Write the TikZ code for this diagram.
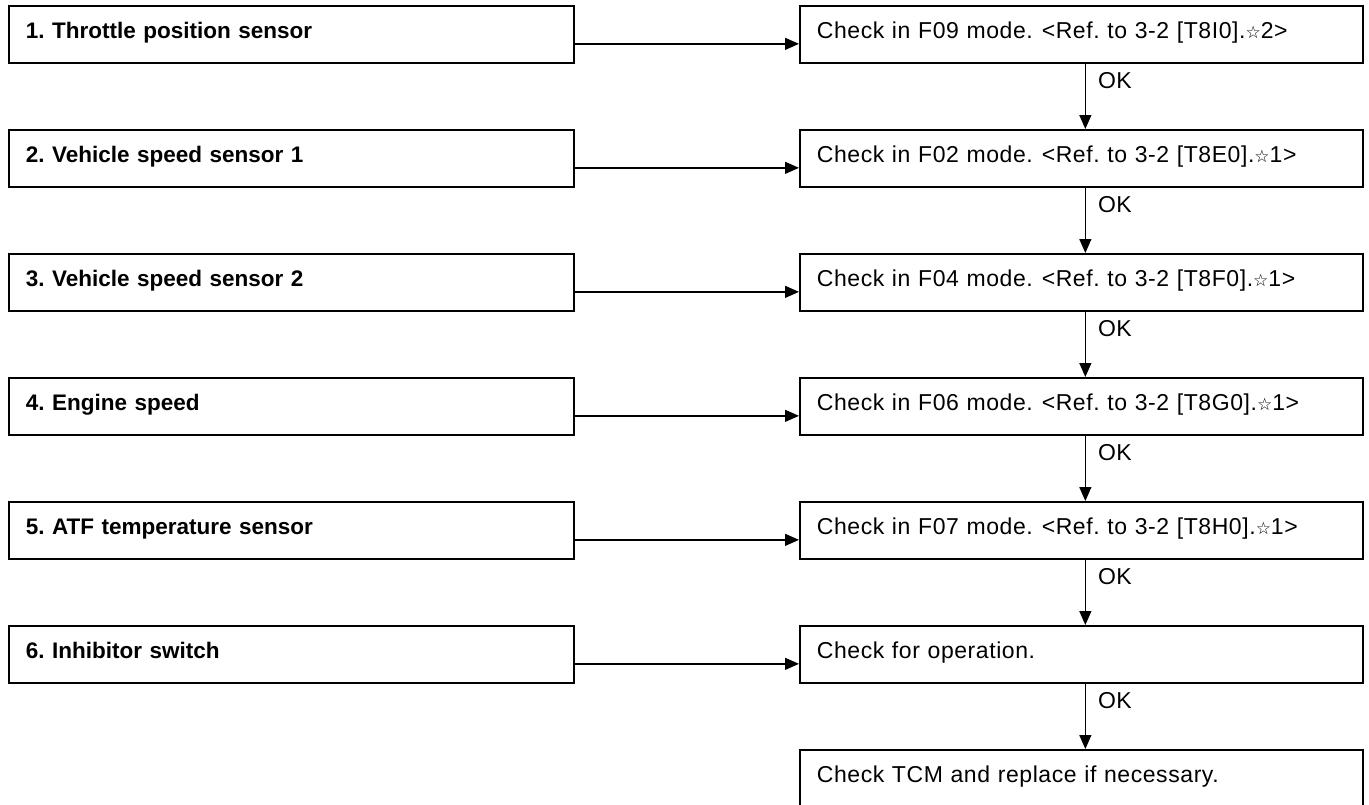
\documentclass[tikz,border=0pt]{standalone}
\usepackage{fontspec}
\setmainfont{Liberation Sans}
\newfontfamily\rg[LetterSpace=2.5]{Liberation Sans}
\newfontfamily\bd{Liberation Sans}
\newfontfamily\sym{DejaVu Sans}
\usetikzlibrary{arrows.meta}
\newcommand{\st}{{\sym\fontsize{17}{20}\selectfont ☆}}
\newcommand{\gp}{\hspace{9pt}}
\begin{document}
\frenchspacing
\begin{tikzpicture}[x=1pt,y=1pt,
  box/.style={draw, line width=1.7pt, rectangle, anchor=north west, minimum height=57pt,
    inner xsep=17pt, inner ysep=0pt, text height=16pt, text depth=8pt, align=left},
  lbox/.style={box, text width=531pt, font=\frenchspacing\bd\bfseries\fontsize{22.5}{26}\selectfont},
  rbox/.style={box, text width=529pt, font=\frenchspacing\rg\fontsize{23}{26}\selectfont},
  arr/.style={line width=1.3pt, -{Triangle[length=14pt,width=12pt]}},
  ok/.style={pos=0, anchor=north west, inner sep=0pt, xshift=12pt, yshift=-8pt,
    font=\rg\fontsize{23}{26}\selectfont}]
\useasboundingbox (0,0) rectangle (1369,-804);
\fill[white] (0,0) rectangle (1369,-804);
% left boxes
\node[lbox] (L1) at (8,-5)   {1. Throttle position sensor};
\node[lbox] (L2) at (8,-129) {2. Vehicle speed sensor 1};
\node[lbox] (L3) at (8,-253) {3. Vehicle speed sensor 2};
\node[lbox] (L4) at (8,-377) {4. Engine speed};
\node[lbox] (L5) at (8,-501) {5. ATF temperature sensor};
\node[lbox] (L6) at (8,-625) {6. Inhibitor switch};
% right boxes
\node[rbox] (R1) at (799,-5)   {Check in F09 mode.\gp<Ref. to 3-2 [T8I0].\st2>};
\node[rbox] (R2) at (799,-129) {Check in F02 mode.\gp<Ref. to 3-2 [T8E0].\st1>};
\node[rbox] (R3) at (799,-253) {Check in F04 mode.\gp<Ref. to 3-2 [T8F0].\st1>};
\node[rbox] (R4) at (799,-377) {Check in F06 mode.\gp<Ref. to 3-2 [T8G0].\st1>};
\node[rbox] (R5) at (799,-501) {Check in F07 mode.\gp<Ref. to 3-2 [T8H0].\st1>};
\node[rbox] (R6) at (799,-625) {Check for operation.};
\node[rbox] (R7) at (799,-749) {Check TCM and replace if necessary.};
% horizontal arrows
\foreach \i in {1,...,6}{
  \draw[arr] ([yshift=-9.5pt]L\i.east) -- ([yshift=-9.5pt]R\i.west);
}
% vertical OK arrows
\foreach \i/\j in {1/2,2/3,3/4,4/5,5/6,6/7}{
  \draw[arr] ([xshift=4pt]R\i.south) -- node[ok]{OK} ([xshift=4pt]R\j.north);
}
\end{tikzpicture}
\end{document}
